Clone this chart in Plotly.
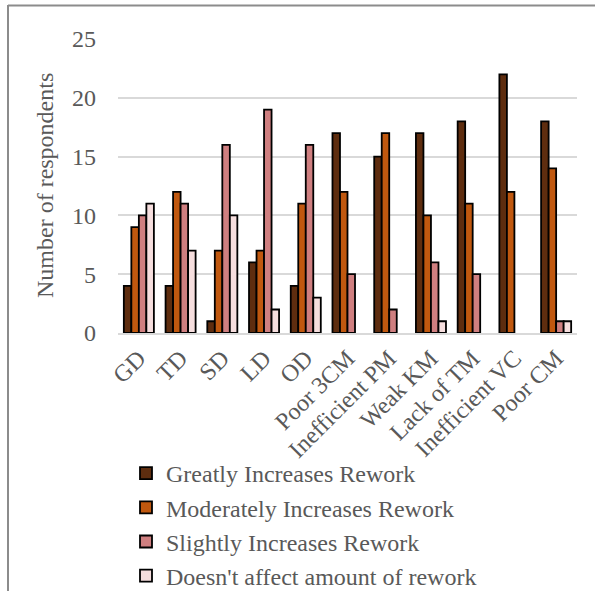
import plotly.graph_objects as go

categories = ["GD", "TD", "SD", "LD", "OD", "Poor 3CM", "Inefficient PM",
              "Weak KM", "Lack of TM", "Inefficient VC", "Poor CM"]
greatly = [4, 4, 1, 6, 4, 17, 15, 17, 18, 22, 18]
moderately = [9, 12, 7, 7, 11, 12, 17, 10, 11, 12, 14]
slightly = [10, 11, 16, 19, 16, 5, 2, 6, 5, 0, 1]
no_effect = [11, 7, 10, 2, 3, 0, 0, 1, 0, 0, 1]

series = [
    ("Greatly Increases Rework", greatly, "#5E2D0F"),
    ("Moderately Increases Rework", moderately, "#C0580F"),
    ("Slightly Increases Rework", slightly, "#CF7F80"),
    ("Doesn't affect amount of rework", no_effect, "#F6DEDE"),
]

W, H = 595, 591
ml, mr, mt, mb = 118, 18, 39, 258
pw, ph = W - ml - mr, H - mt - mb

fig = go.Figure()
for name, vals, color in series:
    # zero counts are left empty so no outline is drawn on the baseline
    fig.add_trace(go.Bar(
        x=categories, y=[v if v else None for v in vals], name=name,
        marker=dict(color=color, line=dict(color="#000000", width=1.8)),
    ))

font = dict(family="Liberation Serif, Times New Roman, serif", color="#595959")

fig.update_layout(
    width=W, height=H,
    margin=dict(l=ml, r=mr, t=mt, b=mb, autoexpand=False),
    paper_bgcolor="white", plot_bgcolor="white",
    barmode="group", bargap=0.28, bargroupgap=0,
    font=dict(**font, size=24),
    xaxis=dict(
        tickangle=-45, showgrid=False, showline=True, automargin=False,
        linecolor="#D9D9D9", linewidth=1.5,
        tickfont=dict(**font, size=24), ticks="",
    ),
    yaxis=dict(
        range=[0, 25], dtick=5, showgrid=True, gridcolor="#D9D9D9",
        gridwidth=1.5, zeroline=False, showline=False, automargin=False,
        tickfont=dict(**font, size=24), ticklabelstandoff=21,
    ),
    legend=dict(
        orientation="v", xref="container", yref="container",
        x=126 / W, y=1 - 451 / H,
        xanchor="left", yanchor="top",
        font=dict(**font, size=24), itemwidth=30,
        bgcolor="rgba(0,0,0,0)",
    ),
    showlegend=True,
)

# y-axis title
fig.add_annotation(
    text="Number of respondents", textangle=-90, showarrow=False,
    xref="paper", yref="paper", x=(45 - ml) / pw, y=0.5,
    xanchor="center", yanchor="middle", font=dict(**font, size=24),
)

# outer frame lines (left and top edges)
def px_x(px):
    return (px - ml) / pw

def px_y(py):
    return (H - mb - py) / ph

fig.add_shape(type="line", xref="paper", yref="paper",
              x0=px_x(8), x1=px_x(8), y0=px_y(5), y1=px_y(H + 5),
              line=dict(color="#8C8C8C", width=2))
fig.add_shape(type="line", xref="paper", yref="paper",
              x0=px_x(8), x1=px_x(W + 5), y0=px_y(5.5), y1=px_y(5.5),
              line=dict(color="#8C8C8C", width=2))

fig.write_html("out.html")
